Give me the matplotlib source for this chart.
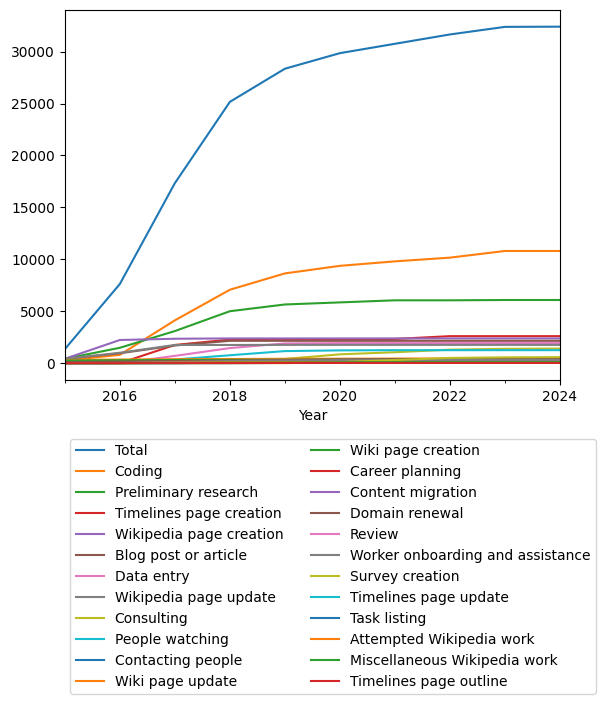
import matplotlib
matplotlib.use('Agg')
import matplotlib.pyplot as plt
import pandas as pd

years = ['2015', '2016', '2017', '2018', '2019', '2020', '2021', '2022', '2023', '2024']

# cumulative values per category
total = [1350, 7620, 17330, 25160, 28350, 29850, 30750, 31650, 32380, 32400]
coding = [250, 800, 4120, 7070, 8640, 9370, 9800, 10160, 10800, 10800]
preliminary_research = [420, 1480, 3090, 5000, 5650, 5850, 6050, 6050, 6080, 6080]
timelines_page_creation = [0, 0, 1750, 2270, 2270, 2300, 2330, 2600, 2600, 2600]
wikipedia_page_creation = [420, 2230, 2350, 2380, 2380, 2380, 2380, 2380, 2380, 2380]
blog_post = [400, 950, 1700, 2150, 2150, 2150, 2150, 2150, 2150, 2150]
data_entry = [0, 0, 700, 1450, 1900, 1930, 1930, 1930, 1930, 1930]
wikipedia_page_update = [420, 1000, 1750, 1750, 1760, 1760, 1760, 1760, 1760, 1760]
consulting = [0, 0, 0, 50, 400, 850, 1050, 1300, 1380, 1400]
people_watching = [0, 50, 350, 760, 1160, 1230, 1250, 1250, 1250, 1250]
contacting_people = [50, 80, 100, 120, 130, 140, 150, 150, 150, 150]
wiki_page_update = [300, 350, 380, 400, 420, 430, 440, 450, 450, 450]
wiki_page_creation = [250, 280, 300, 320, 330, 340, 350, 350, 350, 350]
career_planning = [0, 20, 40, 50, 60, 60, 60, 60, 60, 60]
content_migration = [0, 0, 100, 150, 150, 150, 150, 150, 150, 150]
domain_renewal = [100, 150, 200, 250, 300, 350, 380, 400, 420, 430]
review = [0, 0, 50, 100, 150, 200, 200, 200, 200, 200]
worker_onboarding = [0, 0, 100, 200, 250, 280, 300, 300, 300, 300]
survey_creation = [0, 0, 0, 0, 0, 100, 300, 500, 560, 580]
timelines_page_update = [0, 0, 0, 50, 80, 100, 100, 100, 100, 100]
task_listing = [0, 0, 0, 0, 20, 40, 50, 50, 50, 50]
attempted_wikipedia_work = [0, 0, 50, 80, 100, 100, 100, 100, 100, 100]
misc_wikipedia_work = [0, 0, 20, 40, 60, 80, 100, 100, 100, 100]
timelines_page_outline = [0, 0, 0, 10, 20, 20, 20, 20, 20, 20]

df = pd.DataFrame({
    'Total': total,
    'Coding': coding,
    'Preliminary research': preliminary_research,
    'Timelines page creation': timelines_page_creation,
    'Wikipedia page creation': wikipedia_page_creation,
    'Blog post or article': blog_post,
    'Data entry': data_entry,
    'Wikipedia page update': wikipedia_page_update,
    'Consulting': consulting,
    'People watching': people_watching,
    'Contacting people': contacting_people,
    'Wiki page update': wiki_page_update,
    'Wiki page creation': wiki_page_creation,
    'Career planning': career_planning,
    'Content migration': content_migration,
    'Domain renewal': domain_renewal,
    'Review': review,
    'Worker onboarding and assistance': worker_onboarding,
    'Survey creation': survey_creation,
    'Timelines page update': timelines_page_update,
    'Task listing': task_listing,
    'Attempted Wikipedia work': attempted_wikipedia_work,
    'Miscellaneous Wikipedia work': misc_wikipedia_work,
    'Timelines page outline': timelines_page_outline,
}, index=pd.PeriodIndex(years, freq='Y', name='Year'))

fig = plt.figure(figsize=(6.06, 7.03), dpi=100)
ax = fig.add_axes([0.107, 0.4595, 0.817, 0.5265])
df.plot(ax=ax)

# legend under the axes, two columns
ax.legend(loc='upper center', bbox_to_anchor=(0.542, -0.14), ncol=2)

fig.savefig('out.png', dpi=100)
